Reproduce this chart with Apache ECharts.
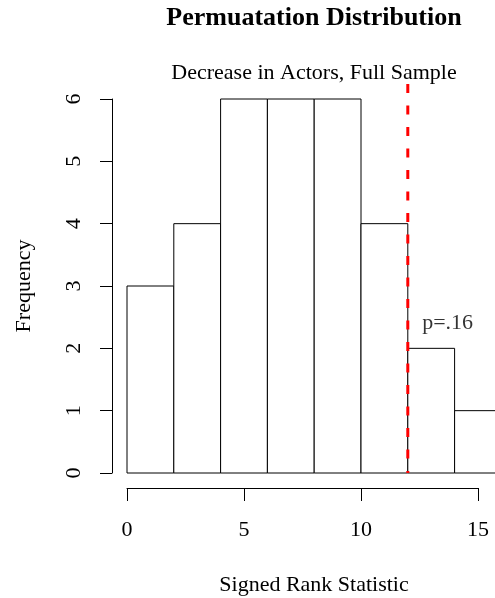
<!DOCTYPE html>
<html>
<head>
<meta charset="utf-8">
<script src="https://cdn.jsdelivr.net/npm/echarts@6/dist/echarts.min.js"></script>
<style>html,body{margin:0;padding:0;background:#fff}#c{width:495px;height:598px}</style>
</head>
<body>
<div id="c"></div>
<script>
// Histogram bins (left edge, right edge) and counts
const binStarts = [0, 2, 4, 6, 8, 10, 12, 14];
const binEnds = [2, 4, 6, 8, 10, 12, 14, 16];
const counts = [3, 4, 6, 6, 6, 4, 2, 1];
const observedStat = 12;
const pLabel = 'p=.16';
const pLabelPos = [13.7, 2.4];
const xTicks = [0, 5, 10, 15];
const yTicks = [0, 1, 2, 3, 4, 5, 6];
const titleText = 'Permuatation Distribution';
const subtitleText = 'Decrease in Actors, Full Sample';
const xName = 'Signed Rank Statistic';
const yName = 'Frequency';

const FONT = '"Liberation Serif", "DejaVu Serif", serif';
const chart = echarts.init(document.getElementById('c'), null, {renderer: 'canvas'});

const histData = binStarts.map((s, i) => [s, binEnds[i], counts[i]]);
const PX_PER_UNIT = 23.4;
const plotWidth = 368;

chart.setOption({
  animation: false,
  backgroundColor: '#fff',
  graphic: [
    {type: 'text', x: 314, y: 18, style: {text: titleText, fill: '#000', font: 'bold 26px ' + FONT, textAlign: 'center', textVerticalAlign: 'middle'}},
    {type: 'text', x: 314, y: 73, style: {text: subtitleText, fill: '#000', font: '22px ' + FONT, textAlign: 'center', textVerticalAlign: 'middle'}}
  ],
  grid: [
    {left: 127, top: 99, width: plotWidth, height: 374, containLabel: false, outerBoundsMode: 'none'},
    {left: 127, top: 99, width: 351, height: 374, containLabel: false, outerBoundsMode: 'none'}
  ],
  xAxis: [
    {
      gridIndex: 0, type: 'value', min: 0, max: plotWidth / PX_PER_UNIT, offset: 15,
      axisLine: {show: false, onZero: false}, axisTick: {show: false}, axisLabel: {show: false}, splitLine: {show: false},
      name: xName, nameLocation: 'middle', nameGap: 86,
      nameTextStyle: {fontFamily: FONT, fontSize: 22, color: '#000', padding: [0, 0, 0, 6]}
    },
    {
      gridIndex: 1, type: 'value', min: xTicks[0], max: xTicks[xTicks.length - 1], interval: 5, offset: 15,
      axisLine: {show: true, onZero: false, lineStyle: {color: '#000', width: 1}},
      axisTick: {show: true, inside: false, length: 13, lineStyle: {color: '#000', width: 1}},
      axisLabel: {show: true, margin: 31, fontFamily: FONT, fontSize: 22, color: '#000'},
      splitLine: {show: false}
    }
  ],
  yAxis: [
    {
      gridIndex: 0, type: 'value', min: yTicks[0], max: yTicks[yTicks.length - 1], interval: 1, offset: 15,
      axisLine: {show: true, onZero: false, lineStyle: {color: '#000', width: 1}},
      axisTick: {show: true, inside: false, length: 12, lineStyle: {color: '#000', width: 1}},
      axisLabel: {show: true, rotate: 90, margin: 27, fontFamily: FONT, fontSize: 22, color: '#000'},
      splitLine: {show: false},
      name: yName, nameLocation: 'middle', nameGap: 77, nameRotate: 90,
      nameTextStyle: {fontFamily: FONT, fontSize: 22, color: '#000'}
    },
    {
      gridIndex: 1, type: 'value', min: 0, max: 6, show: false
    }
  ],
  series: [
    {
      type: 'custom',
      xAxisIndex: 0, yAxisIndex: 0,
      clip: false,
      data: histData,
      renderItem: function (params, api) {
        const p0 = api.coord([api.value(0), api.value(2)]);
        const p1 = api.coord([api.value(1), 0]);
        return {
          type: 'rect',
          shape: {x: p0[0], y: p0[1], width: p1[0] - p0[0], height: p1[1] - p0[1]},
          style: {fill: '#fff', stroke: '#000', lineWidth: 1}
        };
      },
      z: 2
    },
    {
      type: 'line',
      xAxisIndex: 0, yAxisIndex: 0,
      clip: false,
      symbol: 'none',
      data: [[observedStat, 6.24], [observedStat, 0]],
      lineStyle: {color: '#ff0000', width: 3, type: [9, 12.5]},
      z: 5
    },
    {
      type: 'scatter',
      xAxisIndex: 0, yAxisIndex: 0,
      symbolSize: 0,
      data: [pLabelPos],
      label: {show: true, position: 'inside', formatter: pLabel, fontFamily: FONT, fontSize: 22, color: '#000'},
      z: 6
    }
  ]
});
</script>
</body>
</html>
